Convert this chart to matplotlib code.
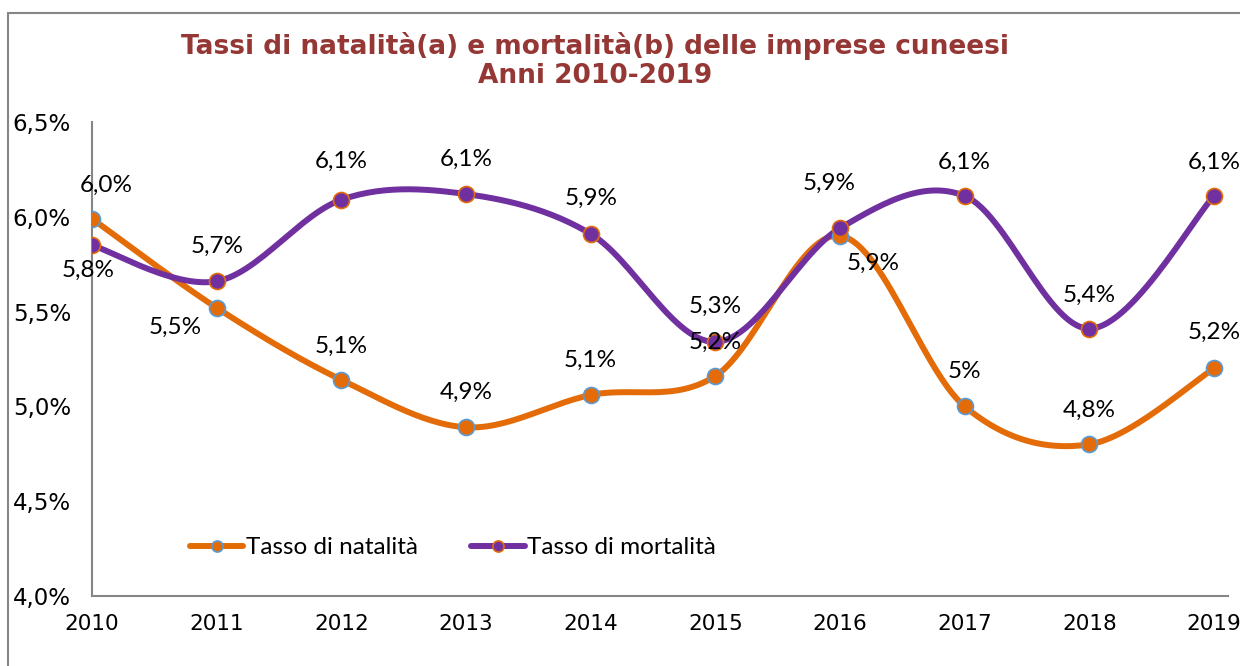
import numpy as np
import matplotlib
matplotlib.use("Agg")
import matplotlib.pyplot as plt
from matplotlib.patches import Rectangle

years = [2010, 2011, 2012, 2013, 2014, 2015, 2016, 2017, 2018, 2019]
natalita = [5.99, 5.52, 5.14, 4.89, 5.06, 5.16, 5.90, 5.00, 4.80, 5.20]
mortalita = [5.85, 5.66, 6.09, 6.12, 5.91, 5.34, 5.94, 6.11, 5.41, 6.11]
natalita_labels = ["6,0%", "5,5%", "5,1%", "4,9%", "5,1%", "5,2%", "5,9%", "5%", "4,8%", "5,2%"]
mortalita_labels = ["5,8%", "5,7%", "6,1%", "6,1%", "5,9%", "5,3%", "5,9%", "6,1%", "5,4%", "6,1%"]

ORANGE = "#E36C09"
PURPLE = "#7030A0"
TITLE_RED = "#953735"
GRAY = "#868686"
LABEL_FONT = ["Lato", "DejaVu Sans"]


def smooth(x, y, n=30):
    # Excel-like smoothed line: Catmull-Rom segments as cubic Bezier
    x = np.asarray(x, float)
    y = np.asarray(y, float)
    px = np.concatenate([[x[0]], x, [x[-1]]])
    py = np.concatenate([[y[0]], y, [y[-1]]])
    t = np.linspace(0, 1, n)
    xs, ys = [], []
    for i in range(1, len(px) - 2):
        p0x, p0y = px[i], py[i]
        p3x, p3y = px[i + 1], py[i + 1]
        c1x = p0x + (px[i + 1] - px[i - 1]) / 6
        c1y = p0y + (py[i + 1] - py[i - 1]) / 6
        c2x = p3x - (px[i + 2] - px[i]) / 6
        c2y = p3y - (py[i + 2] - py[i]) / 6
        b0 = (1 - t) ** 3
        b1 = 3 * (1 - t) ** 2 * t
        b2 = 3 * (1 - t) * t ** 2
        b3 = t ** 3
        xs.append(b0 * p0x + b1 * c1x + b2 * c2x + b3 * p3x)
        ys.append(b0 * p0y + b1 * c1y + b2 * c2y + b3 * p3y)
    return np.concatenate(xs), np.concatenate(ys)


fig = plt.figure(figsize=(12.4, 6.66), dpi=100)
ax = fig.add_axes([92 / 1240, 70 / 666, 1136 / 1240, 474 / 666])

# outer chart border
fig.patches.append(Rectangle((8 / 1240, -0.5), 2, 0.5 + 653 / 666, transform=fig.transFigure,
                             fill=False, edgecolor=GRAY, linewidth=1.5))

for vals, col, edge, name in [(natalita, ORANGE, "#5B9BD5", "Tasso di natalità"),
                              (mortalita, PURPLE, ORANGE, "Tasso di mortalità")]:
    sx, sy = smooth(years, vals)
    ax.plot(sx, sy, color=col, lw=4.3, solid_capstyle="round", zorder=2)
    ax.plot(years, vals, linestyle="none", marker="o", ms=11.5, mfc=col, mec=edge, mew=1.2, zorder=3)
    ax.plot([], [], color=col, lw=4.3, marker="o", ms=8, mfc=col, mec=edge, mew=1.2,
            solid_capstyle="round", label=name)

nat_off = [(14, 33), (-41, -20), (0, 34), (0, 35), (0, 35), (0, 34), (33, -28), (0, 35), (0, 34), (0, 36)]
mor_off = [(-4, -25), (0, 35), (0, 38), (0, 35), (0, 36), (0, 36), (-11, 45), (0, 34), (0, 33), (0, 34)]
for vals, labels, offs in [(natalita, natalita_labels, nat_off), (mortalita, mortalita_labels, mor_off)]:
    for x, v, lab, off in zip(years, vals, labels, offs):
        ax.annotate(lab, (x, v), xytext=off, textcoords="offset pixels", ha="center", va="center",
                    fontsize=17.5, family=LABEL_FONT, color="black", zorder=4)

ax.set_xlim(2010, 2019 + 14 / 1122 * 9)
ax.set_ylim(4.0, 6.5)
ax.set_xticks(years)
ax.set_xticklabels([str(y) for y in years])
yt = [4.0, 4.5, 5.0, 5.5, 6.0, 6.5]
ax.set_yticks(yt)
ax.set_yticklabels([f"{v:.1f}%".replace(".", ",") for v in yt], ha="left")
ax.tick_params(axis="y", length=0, pad=57, labelsize=16.5)
ax.tick_params(axis="x", length=0, pad=13, labelsize=15.5)
for s in ["top", "right"]:
    ax.spines[s].set_visible(False)
for s in ["left", "bottom"]:
    ax.spines[s].set_color(GRAY)
    ax.spines[s].set_linewidth(1.5)

leg = ax.legend(loc="lower left", bbox_to_anchor=(0.067, 0.034), ncol=2, frameon=False,
                prop={"family": LABEL_FONT, "size": 17.5}, handlelength=2.2, handletextpad=0.1,
                columnspacing=2.2)

fig.text(595 / 1240, 1 - 46 / 666, "Tassi di natalità(a) e mortalità(b) delle imprese cuneesi",
         ha="center", va="center", fontsize=19, fontweight="bold", color=TITLE_RED)
fig.text(595 / 1240, 1 - 76 / 666, "Anni 2010-2019",
         ha="center", va="center", fontsize=19, fontweight="bold", color=TITLE_RED)

fig.savefig("out.png", dpi=100)
